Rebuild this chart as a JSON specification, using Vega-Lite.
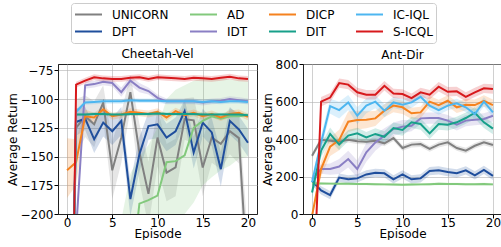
{
"$schema": "https://vega.github.io/schema/vega-lite/v6.json",
"padding": {"left": 5, "top": 2, "right": 0, "bottom": 0},
"config": {
  "font": "DejaVu Sans",
  "view": {"stroke": "#222", "strokeWidth": 1},
  "axis": {"labelFontSize": 12, "titleFontSize": 12, "labelColor": "#000", "titleColor": "#000", "titleFontWeight": "normal", "tickColor": "#000", "domainColor": "#222", "gridColor": "#b0b0b0", "gridOpacity": 0.6, "tickSize": 4, "labelPadding": 1, "titlePadding": 1},
  "axisX": {"labelPadding": -1, "titlePadding": 0},
  "title": {"fontSize": 12, "fontWeight": "normal", "offset": 3, "color": "#000"},
  "legend": {"labelFontSize": 12, "labelColor": "#000"}
},
"datasets": {
"cv": [
{"m":"UNICORN","ep":0,"y":-500,"lo":-530,"hi":-470},
{"m":"UNICORN","ep":1,"y":-125,"lo":-150,"hi":-100},
{"m":"UNICORN","ep":2,"y":-115,"lo":-133,"hi":-97},
{"m":"UNICORN","ep":3,"y":-122,"lo":-142,"hi":-102},
{"m":"UNICORN","ep":4,"y":-103,"lo":-118,"hi":-88},
{"m":"UNICORN","ep":5,"y":-162,"lo":-187,"hi":-137},
{"m":"UNICORN","ep":6,"y":-133.5,"lo":-155.5,"hi":-111.5},
{"m":"UNICORN","ep":7,"y":-94,"lo":-109,"hi":-79},
{"m":"UNICORN","ep":8,"y":-146.5,"lo":-171.5,"hi":-121.5},
{"m":"UNICORN","ep":9,"y":-182.5,"lo":-210.5,"hi":-154.5},
{"m":"UNICORN","ep":10,"y":-133.5,"lo":-158.5,"hi":-108.5},
{"m":"UNICORN","ep":11,"y":-164,"lo":-189,"hi":-139},
{"m":"UNICORN","ep":12,"y":-159.5,"lo":-184.5,"hi":-134.5},
{"m":"UNICORN","ep":13,"y":-117.5,"lo":-135.5,"hi":-99.5},
{"m":"UNICORN","ep":14,"y":-118.5,"lo":-138.5,"hi":-98.5},
{"m":"UNICORN","ep":15,"y":-159.5,"lo":-184.5,"hi":-134.5},
{"m":"UNICORN","ep":16,"y":-133.5,"lo":-155.5,"hi":-111.5},
{"m":"UNICORN","ep":17,"y":-139,"lo":-161,"hi":-117},
{"m":"UNICORN","ep":18,"y":-128,"lo":-148,"hi":-108},
{"m":"UNICORN","ep":19,"y":-134,"lo":-156,"hi":-112},
{"m":"UNICORN","ep":20,"y":-260,"lo":-300,"hi":-220},
{"m":"DPT","ep":0,"y":-470,"lo":-490,"hi":-450},
{"m":"DPT","ep":1,"y":-120,"lo":-132,"hi":-108},
{"m":"DPT","ep":2,"y":-117,"lo":-127,"hi":-107},
{"m":"DPT","ep":3,"y":-135,"lo":-147,"hi":-123},
{"m":"DPT","ep":4,"y":-120.5,"lo":-132.5,"hi":-108.5},
{"m":"DPT","ep":5,"y":-128,"lo":-140,"hi":-116},
{"m":"DPT","ep":6,"y":-119,"lo":-131,"hi":-107},
{"m":"DPT","ep":7,"y":-187,"lo":-202,"hi":-172},
{"m":"DPT","ep":8,"y":-148,"lo":-163,"hi":-133},
{"m":"DPT","ep":9,"y":-123.5,"lo":-135.5,"hi":-111.5},
{"m":"DPT","ep":10,"y":-122,"lo":-134,"hi":-110},
{"m":"DPT","ep":11,"y":-133.5,"lo":-145.5,"hi":-121.5},
{"m":"DPT","ep":12,"y":-128,"lo":-140,"hi":-116},
{"m":"DPT","ep":13,"y":-110.5,"lo":-120.5,"hi":-100.5},
{"m":"DPT","ep":14,"y":-146.5,"lo":-160.5,"hi":-132.5},
{"m":"DPT","ep":15,"y":-120.5,"lo":-132.5,"hi":-108.5},
{"m":"DPT","ep":16,"y":-129,"lo":-141,"hi":-117},
{"m":"DPT","ep":17,"y":-161,"lo":-176,"hi":-146},
{"m":"DPT","ep":18,"y":-119,"lo":-131,"hi":-107},
{"m":"DPT","ep":19,"y":-126.5,"lo":-138.5,"hi":-114.5},
{"m":"DPT","ep":20,"y":-138,"lo":-150,"hi":-126},
{"m":"AD","ep":0,"y":-400,"lo":-500,"hi":-300},
{"m":"AD","ep":1,"y":-390,"lo":-490,"hi":-290},
{"m":"AD","ep":2,"y":-380,"lo":-480,"hi":-280},
{"m":"AD","ep":3,"y":-370,"lo":-470,"hi":-270},
{"m":"AD","ep":4,"y":-350,"lo":-450,"hi":-250},
{"m":"AD","ep":5,"y":-330,"lo":-430,"hi":-235},
{"m":"AD","ep":6,"y":-300,"lo":-400,"hi":-205},
{"m":"AD","ep":7,"y":-260,"lo":-360,"hi":-165},
{"m":"AD","ep":8,"y":-191,"lo":-260,"hi":-150},
{"m":"AD","ep":9,"y":-188,"lo":-255,"hi":-140},
{"m":"AD","ep":10,"y":-184,"lo":-250,"hi":-125},
{"m":"AD","ep":11,"y":-155,"lo":-220,"hi":-100},
{"m":"AD","ep":12,"y":-154,"lo":-215,"hi":-92},
{"m":"AD","ep":13,"y":-149,"lo":-200,"hi":-88},
{"m":"AD","ep":14,"y":-125,"lo":-190,"hi":-84},
{"m":"AD","ep":15,"y":-119,"lo":-175,"hi":-82},
{"m":"AD","ep":16,"y":-115,"lo":-168,"hi":-82},
{"m":"AD","ep":17,"y":-117,"lo":-162,"hi":-82},
{"m":"AD","ep":18,"y":-115,"lo":-158,"hi":-83},
{"m":"AD","ep":19,"y":-115,"lo":-152,"hi":-83},
{"m":"AD","ep":20,"y":-114,"lo":-150,"hi":-84},
{"m":"IDT","ep":0,"y":-450,"lo":-455,"hi":-445},
{"m":"IDT","ep":1,"y":-215,"lo":-223,"hi":-207},
{"m":"IDT","ep":2,"y":-88,"lo":-91,"hi":-85},
{"m":"IDT","ep":3,"y":-87,"lo":-90,"hi":-84},
{"m":"IDT","ep":4,"y":-85,"lo":-88,"hi":-82},
{"m":"IDT","ep":5,"y":-86,"lo":-89,"hi":-83},
{"m":"IDT","ep":6,"y":-94,"lo":-98,"hi":-90},
{"m":"IDT","ep":7,"y":-84,"lo":-88,"hi":-80},
{"m":"IDT","ep":8,"y":-90,"lo":-94,"hi":-86},
{"m":"IDT","ep":9,"y":-93,"lo":-96,"hi":-90},
{"m":"IDT","ep":10,"y":-99,"lo":-102,"hi":-96},
{"m":"IDT","ep":11,"y":-102,"lo":-104.5,"hi":-99.5},
{"m":"IDT","ep":12,"y":-102,"lo":-104.5,"hi":-99.5},
{"m":"IDT","ep":13,"y":-102,"lo":-104.5,"hi":-99.5},
{"m":"IDT","ep":14,"y":-102,"lo":-104.5,"hi":-99.5},
{"m":"IDT","ep":15,"y":-103,"lo":-105.5,"hi":-100.5},
{"m":"IDT","ep":16,"y":-102,"lo":-104.5,"hi":-99.5},
{"m":"IDT","ep":17,"y":-101.5,"lo":-104,"hi":-99},
{"m":"IDT","ep":18,"y":-100,"lo":-102.5,"hi":-97.5},
{"m":"IDT","ep":19,"y":-101,"lo":-103.5,"hi":-98.5},
{"m":"IDT","ep":20,"y":-102,"lo":-104.5,"hi":-99.5},
{"m":"DICP","ep":0,"y":-162,"lo":-186,"hi":-134},
{"m":"DICP","ep":1,"y":-155,"lo":-175,"hi":-135},
{"m":"DICP","ep":2,"y":-115,"lo":-121,"hi":-109},
{"m":"DICP","ep":3,"y":-116,"lo":-120,"hi":-112},
{"m":"DICP","ep":4,"y":-109,"lo":-112,"hi":-106},
{"m":"DICP","ep":5,"y":-115,"lo":-118,"hi":-112},
{"m":"DICP","ep":6,"y":-113.5,"lo":-116.5,"hi":-110.5},
{"m":"DICP","ep":7,"y":-111,"lo":-114,"hi":-108},
{"m":"DICP","ep":8,"y":-112,"lo":-115,"hi":-109},
{"m":"DICP","ep":9,"y":-113,"lo":-116,"hi":-110},
{"m":"DICP","ep":10,"y":-111,"lo":-114,"hi":-108},
{"m":"DICP","ep":11,"y":-116,"lo":-119,"hi":-113},
{"m":"DICP","ep":12,"y":-110.5,"lo":-113.5,"hi":-107.5},
{"m":"DICP","ep":13,"y":-114,"lo":-117,"hi":-111},
{"m":"DICP","ep":14,"y":-112,"lo":-115,"hi":-109},
{"m":"DICP","ep":15,"y":-115,"lo":-118,"hi":-112},
{"m":"DICP","ep":16,"y":-113,"lo":-116,"hi":-110},
{"m":"DICP","ep":17,"y":-116,"lo":-119,"hi":-113},
{"m":"DICP","ep":18,"y":-113,"lo":-116,"hi":-110},
{"m":"DICP","ep":19,"y":-112,"lo":-115,"hi":-109},
{"m":"DICP","ep":20,"y":-115.5,"lo":-118.5,"hi":-112.5},
{"m":"DIT","ep":0,"y":-600,"lo":-602,"hi":-598},
{"m":"DIT","ep":1,"y":-113.5,"lo":-115,"hi":-112},
{"m":"DIT","ep":2,"y":-113.5,"lo":-115,"hi":-112},
{"m":"DIT","ep":3,"y":-113,"lo":-114.5,"hi":-111.5},
{"m":"DIT","ep":4,"y":-113,"lo":-114.5,"hi":-111.5},
{"m":"DIT","ep":5,"y":-113.5,"lo":-115,"hi":-112},
{"m":"DIT","ep":6,"y":-113.5,"lo":-115,"hi":-112},
{"m":"DIT","ep":7,"y":-113,"lo":-114.5,"hi":-111.5},
{"m":"DIT","ep":8,"y":-113,"lo":-114.5,"hi":-111.5},
{"m":"DIT","ep":9,"y":-113,"lo":-114.5,"hi":-111.5},
{"m":"DIT","ep":10,"y":-112.5,"lo":-114,"hi":-111},
{"m":"DIT","ep":11,"y":-113,"lo":-114.5,"hi":-111.5},
{"m":"DIT","ep":12,"y":-113,"lo":-114.5,"hi":-111.5},
{"m":"DIT","ep":13,"y":-113,"lo":-114.5,"hi":-111.5},
{"m":"DIT","ep":14,"y":-113,"lo":-114.5,"hi":-111.5},
{"m":"DIT","ep":15,"y":-113.5,"lo":-115,"hi":-112},
{"m":"DIT","ep":16,"y":-113.5,"lo":-115,"hi":-112},
{"m":"DIT","ep":17,"y":-113.5,"lo":-115,"hi":-112},
{"m":"DIT","ep":18,"y":-113.5,"lo":-115,"hi":-112},
{"m":"DIT","ep":19,"y":-113.5,"lo":-115,"hi":-112},
{"m":"DIT","ep":20,"y":-114,"lo":-115.5,"hi":-112.5},
{"m":"IC-IQL","ep":0,"y":-600,"lo":-602,"hi":-598},
{"m":"IC-IQL","ep":1,"y":-111,"lo":-113,"hi":-109},
{"m":"IC-IQL","ep":2,"y":-103,"lo":-105,"hi":-101},
{"m":"IC-IQL","ep":3,"y":-102.5,"lo":-104.5,"hi":-100.5},
{"m":"IC-IQL","ep":4,"y":-102,"lo":-104,"hi":-100},
{"m":"IC-IQL","ep":5,"y":-102,"lo":-104,"hi":-100},
{"m":"IC-IQL","ep":6,"y":-102,"lo":-104,"hi":-100},
{"m":"IC-IQL","ep":7,"y":-101,"lo":-103,"hi":-99},
{"m":"IC-IQL","ep":8,"y":-101.5,"lo":-103.5,"hi":-99.5},
{"m":"IC-IQL","ep":9,"y":-101.5,"lo":-103.5,"hi":-99.5},
{"m":"IC-IQL","ep":10,"y":-101.5,"lo":-103.5,"hi":-99.5},
{"m":"IC-IQL","ep":11,"y":-102,"lo":-104,"hi":-100},
{"m":"IC-IQL","ep":12,"y":-102,"lo":-104,"hi":-100},
{"m":"IC-IQL","ep":13,"y":-102,"lo":-104,"hi":-100},
{"m":"IC-IQL","ep":14,"y":-102,"lo":-104,"hi":-100},
{"m":"IC-IQL","ep":15,"y":-102.5,"lo":-104.5,"hi":-100.5},
{"m":"IC-IQL","ep":16,"y":-102,"lo":-104,"hi":-100},
{"m":"IC-IQL","ep":17,"y":-102.5,"lo":-104.5,"hi":-100.5},
{"m":"IC-IQL","ep":18,"y":-102,"lo":-104,"hi":-100},
{"m":"IC-IQL","ep":19,"y":-102,"lo":-104,"hi":-100},
{"m":"IC-IQL","ep":20,"y":-102.5,"lo":-104.5,"hi":-100.5},
{"m":"S-ICQL","ep":0,"y":-650,"lo":-652.5,"hi":-647.5},
{"m":"S-ICQL","ep":1,"y":-87.5,"lo":-90,"hi":-85},
{"m":"S-ICQL","ep":2,"y":-84,"lo":-86.5,"hi":-81.5},
{"m":"S-ICQL","ep":3,"y":-81,"lo":-83.5,"hi":-78.5},
{"m":"S-ICQL","ep":4,"y":-82,"lo":-84.5,"hi":-79.5},
{"m":"S-ICQL","ep":5,"y":-82.5,"lo":-85,"hi":-80},
{"m":"S-ICQL","ep":6,"y":-82.5,"lo":-85,"hi":-80},
{"m":"S-ICQL","ep":7,"y":-81.5,"lo":-84,"hi":-79},
{"m":"S-ICQL","ep":8,"y":-81,"lo":-83.5,"hi":-78.5},
{"m":"S-ICQL","ep":9,"y":-82.5,"lo":-85,"hi":-80},
{"m":"S-ICQL","ep":10,"y":-81,"lo":-83.5,"hi":-78.5},
{"m":"S-ICQL","ep":11,"y":-81.5,"lo":-84,"hi":-79},
{"m":"S-ICQL","ep":12,"y":-82,"lo":-84.5,"hi":-79.5},
{"m":"S-ICQL","ep":13,"y":-82.5,"lo":-85,"hi":-80},
{"m":"S-ICQL","ep":14,"y":-81.5,"lo":-84,"hi":-79},
{"m":"S-ICQL","ep":15,"y":-82,"lo":-84.5,"hi":-79.5},
{"m":"S-ICQL","ep":16,"y":-82.5,"lo":-85,"hi":-80},
{"m":"S-ICQL","ep":17,"y":-81.5,"lo":-84,"hi":-79},
{"m":"S-ICQL","ep":18,"y":-80.5,"lo":-83,"hi":-78},
{"m":"S-ICQL","ep":19,"y":-82,"lo":-84.5,"hi":-79.5},
{"m":"S-ICQL","ep":20,"y":-82.5,"lo":-85,"hi":-80}
],
"ad": [
{"m":"UNICORN","ep":0,"y":311,"lo":296,"hi":326},
{"m":"UNICORN","ep":1,"y":396,"lo":381,"hi":411},
{"m":"UNICORN","ep":2,"y":391,"lo":376,"hi":406},
{"m":"UNICORN","ep":3,"y":386,"lo":371,"hi":401},
{"m":"UNICORN","ep":4,"y":396,"lo":381,"hi":411},
{"m":"UNICORN","ep":5,"y":388,"lo":373,"hi":403},
{"m":"UNICORN","ep":6,"y":386,"lo":371,"hi":401},
{"m":"UNICORN","ep":7,"y":391,"lo":376,"hi":406},
{"m":"UNICORN","ep":8,"y":377,"lo":362,"hi":392},
{"m":"UNICORN","ep":9,"y":405,"lo":390,"hi":420},
{"m":"UNICORN","ep":10,"y":352,"lo":337,"hi":367},
{"m":"UNICORN","ep":11,"y":370,"lo":355,"hi":385},
{"m":"UNICORN","ep":12,"y":373,"lo":358,"hi":388},
{"m":"UNICORN","ep":13,"y":347,"lo":332,"hi":362},
{"m":"UNICORN","ep":14,"y":370,"lo":355,"hi":385},
{"m":"UNICORN","ep":15,"y":382,"lo":367,"hi":397},
{"m":"UNICORN","ep":16,"y":352,"lo":337,"hi":367},
{"m":"UNICORN","ep":17,"y":338,"lo":323,"hi":353},
{"m":"UNICORN","ep":18,"y":364,"lo":349,"hi":379},
{"m":"UNICORN","ep":19,"y":382,"lo":367,"hi":397},
{"m":"UNICORN","ep":20,"y":368,"lo":353,"hi":383},
{"m":"DPT","ep":0,"y":176,"lo":154,"hi":198},
{"m":"DPT","ep":1,"y":126,"lo":104,"hi":148},
{"m":"DPT","ep":2,"y":101,"lo":79,"hi":123},
{"m":"DPT","ep":3,"y":194,"lo":172,"hi":216},
{"m":"DPT","ep":4,"y":185,"lo":163,"hi":207},
{"m":"DPT","ep":5,"y":190,"lo":168,"hi":212},
{"m":"DPT","ep":6,"y":211,"lo":189,"hi":233},
{"m":"DPT","ep":7,"y":220,"lo":198,"hi":242},
{"m":"DPT","ep":8,"y":217,"lo":195,"hi":239},
{"m":"DPT","ep":9,"y":185,"lo":163,"hi":207},
{"m":"DPT","ep":10,"y":211,"lo":189,"hi":233},
{"m":"DPT","ep":11,"y":185,"lo":163,"hi":207},
{"m":"DPT","ep":12,"y":190,"lo":168,"hi":212},
{"m":"DPT","ep":13,"y":229,"lo":207,"hi":251},
{"m":"DPT","ep":14,"y":233,"lo":211,"hi":255},
{"m":"DPT","ep":15,"y":224,"lo":202,"hi":246},
{"m":"DPT","ep":16,"y":217,"lo":195,"hi":239},
{"m":"DPT","ep":17,"y":233,"lo":211,"hi":255},
{"m":"DPT","ep":18,"y":206,"lo":184,"hi":228},
{"m":"DPT","ep":19,"y":235,"lo":213,"hi":257},
{"m":"DPT","ep":20,"y":203,"lo":181,"hi":225},
{"m":"AD","ep":0,"y":163,"lo":156,"hi":170},
{"m":"AD","ep":1,"y":163,"lo":156,"hi":170},
{"m":"AD","ep":2,"y":162,"lo":155,"hi":169},
{"m":"AD","ep":3,"y":162,"lo":155,"hi":169},
{"m":"AD","ep":4,"y":161,"lo":154,"hi":168},
{"m":"AD","ep":5,"y":160,"lo":153,"hi":167},
{"m":"AD","ep":6,"y":160,"lo":153,"hi":167},
{"m":"AD","ep":7,"y":159,"lo":152,"hi":166},
{"m":"AD","ep":8,"y":158,"lo":151,"hi":165},
{"m":"AD","ep":9,"y":157,"lo":150,"hi":164},
{"m":"AD","ep":10,"y":156,"lo":149,"hi":163},
{"m":"AD","ep":11,"y":157,"lo":150,"hi":164},
{"m":"AD","ep":12,"y":158,"lo":151,"hi":165},
{"m":"AD","ep":13,"y":159,"lo":152,"hi":166},
{"m":"AD","ep":14,"y":161,"lo":154,"hi":168},
{"m":"AD","ep":15,"y":160,"lo":153,"hi":167},
{"m":"AD","ep":16,"y":160,"lo":153,"hi":167},
{"m":"AD","ep":17,"y":159,"lo":152,"hi":166},
{"m":"AD","ep":18,"y":159,"lo":152,"hi":166},
{"m":"AD","ep":19,"y":160,"lo":153,"hi":167},
{"m":"AD","ep":20,"y":158,"lo":151,"hi":165},
{"m":"IDT","ep":0,"y":185,"lo":165,"hi":205},
{"m":"IDT","ep":1,"y":240,"lo":215,"hi":265},
{"m":"IDT","ep":2,"y":240,"lo":210,"hi":270},
{"m":"IDT","ep":3,"y":253,"lo":213,"hi":293},
{"m":"IDT","ep":4,"y":293,"lo":248,"hi":338},
{"m":"IDT","ep":5,"y":240,"lo":195,"hi":285},
{"m":"IDT","ep":6,"y":329,"lo":279,"hi":379},
{"m":"IDT","ep":7,"y":382,"lo":337,"hi":427},
{"m":"IDT","ep":8,"y":418,"lo":378,"hi":458},
{"m":"IDT","ep":9,"y":453,"lo":418,"hi":488},
{"m":"IDT","ep":10,"y":466,"lo":431,"hi":501},
{"m":"IDT","ep":11,"y":471,"lo":441,"hi":501},
{"m":"IDT","ep":12,"y":510,"lo":480,"hi":540},
{"m":"IDT","ep":13,"y":512,"lo":482,"hi":542},
{"m":"IDT","ep":14,"y":512,"lo":482,"hi":542},
{"m":"IDT","ep":15,"y":498,"lo":468,"hi":528},
{"m":"IDT","ep":16,"y":476,"lo":446,"hi":506},
{"m":"IDT","ep":17,"y":498,"lo":468,"hi":528},
{"m":"IDT","ep":18,"y":503,"lo":473,"hi":533},
{"m":"IDT","ep":19,"y":507,"lo":477,"hi":537},
{"m":"IDT","ep":20,"y":524,"lo":494,"hi":554},
{"m":"DICP","ep":0,"y":-10,"lo":-25,"hi":5},
{"m":"DICP","ep":1,"y":240,"lo":200,"hi":280},
{"m":"DICP","ep":2,"y":359,"lo":309,"hi":409},
{"m":"DICP","ep":3,"y":395,"lo":340,"hi":450},
{"m":"DICP","ep":4,"y":492,"lo":437,"hi":547},
{"m":"DICP","ep":5,"y":501,"lo":451,"hi":551},
{"m":"DICP","ep":6,"y":503,"lo":458,"hi":548},
{"m":"DICP","ep":7,"y":510,"lo":470,"hi":550},
{"m":"DICP","ep":8,"y":551,"lo":516,"hi":586},
{"m":"DICP","ep":9,"y":578,"lo":543,"hi":613},
{"m":"DICP","ep":10,"y":569,"lo":534,"hi":604},
{"m":"DICP","ep":11,"y":537,"lo":507,"hi":567},
{"m":"DICP","ep":12,"y":542,"lo":512,"hi":572},
{"m":"DICP","ep":13,"y":599,"lo":569,"hi":629},
{"m":"DICP","ep":14,"y":580,"lo":550,"hi":610},
{"m":"DICP","ep":15,"y":604,"lo":574,"hi":634},
{"m":"DICP","ep":16,"y":569,"lo":539,"hi":599},
{"m":"DICP","ep":17,"y":583,"lo":553,"hi":613},
{"m":"DICP","ep":18,"y":581,"lo":551,"hi":611},
{"m":"DICP","ep":19,"y":604,"lo":574,"hi":634},
{"m":"DICP","ep":20,"y":581,"lo":551,"hi":611},
{"m":"DIT","ep":0,"y":115,"lo":85,"hi":145},
{"m":"DIT","ep":1,"y":338,"lo":303,"hi":373},
{"m":"DIT","ep":2,"y":427,"lo":392,"hi":462},
{"m":"DIT","ep":3,"y":370,"lo":340,"hi":400},
{"m":"DIT","ep":4,"y":418,"lo":388,"hi":448},
{"m":"DIT","ep":5,"y":430,"lo":400,"hi":460},
{"m":"DIT","ep":6,"y":408,"lo":378,"hi":438},
{"m":"DIT","ep":7,"y":427,"lo":397,"hi":457},
{"m":"DIT","ep":8,"y":412,"lo":382,"hi":442},
{"m":"DIT","ep":9,"y":458,"lo":428,"hi":488},
{"m":"DIT","ep":10,"y":448,"lo":418,"hi":478},
{"m":"DIT","ep":11,"y":489,"lo":459,"hi":519},
{"m":"DIT","ep":12,"y":480,"lo":450,"hi":510},
{"m":"DIT","ep":13,"y":430,"lo":400,"hi":460},
{"m":"DIT","ep":14,"y":480,"lo":450,"hi":510},
{"m":"DIT","ep":15,"y":476,"lo":446,"hi":506},
{"m":"DIT","ep":16,"y":489,"lo":459,"hi":519},
{"m":"DIT","ep":17,"y":512,"lo":482,"hi":542},
{"m":"DIT","ep":18,"y":540,"lo":510,"hi":570},
{"m":"DIT","ep":19,"y":489,"lo":459,"hi":519},
{"m":"DIT","ep":20,"y":455,"lo":425,"hi":485},
{"m":"IC-IQL","ep":0,"y":170,"lo":150,"hi":190},
{"m":"IC-IQL","ep":1,"y":380,"lo":340,"hi":420},
{"m":"IC-IQL","ep":2,"y":575,"lo":535,"hi":615},
{"m":"IC-IQL","ep":3,"y":554,"lo":509,"hi":599},
{"m":"IC-IQL","ep":4,"y":595,"lo":555,"hi":635},
{"m":"IC-IQL","ep":5,"y":524,"lo":479,"hi":569},
{"m":"IC-IQL","ep":6,"y":578,"lo":538,"hi":618},
{"m":"IC-IQL","ep":7,"y":599,"lo":564,"hi":634},
{"m":"IC-IQL","ep":8,"y":551,"lo":516,"hi":586},
{"m":"IC-IQL","ep":9,"y":595,"lo":565,"hi":625},
{"m":"IC-IQL","ep":10,"y":583,"lo":553,"hi":613},
{"m":"IC-IQL","ep":11,"y":595,"lo":565,"hi":625},
{"m":"IC-IQL","ep":12,"y":625,"lo":600,"hi":650},
{"m":"IC-IQL","ep":13,"y":578,"lo":553,"hi":603},
{"m":"IC-IQL","ep":14,"y":554,"lo":529,"hi":579},
{"m":"IC-IQL","ep":15,"y":578,"lo":553,"hi":603},
{"m":"IC-IQL","ep":16,"y":590,"lo":565,"hi":615},
{"m":"IC-IQL","ep":17,"y":569,"lo":544,"hi":594},
{"m":"IC-IQL","ep":18,"y":533,"lo":508,"hi":558},
{"m":"IC-IQL","ep":19,"y":599,"lo":574,"hi":624},
{"m":"IC-IQL","ep":20,"y":542,"lo":517,"hi":567},
{"m":"S-ICQL","ep":0,"y":-590,"lo":-615,"hi":-565},
{"m":"S-ICQL","ep":1,"y":599,"lo":574,"hi":624},
{"m":"S-ICQL","ep":2,"y":621,"lo":596,"hi":646},
{"m":"S-ICQL","ep":3,"y":698,"lo":673,"hi":723},
{"m":"S-ICQL","ep":4,"y":690,"lo":665,"hi":715},
{"m":"S-ICQL","ep":5,"y":649,"lo":624,"hi":674},
{"m":"S-ICQL","ep":6,"y":636,"lo":611,"hi":661},
{"m":"S-ICQL","ep":7,"y":636,"lo":611,"hi":661},
{"m":"S-ICQL","ep":8,"y":684,"lo":659,"hi":709},
{"m":"S-ICQL","ep":9,"y":643,"lo":618,"hi":668},
{"m":"S-ICQL","ep":10,"y":640,"lo":615,"hi":665},
{"m":"S-ICQL","ep":11,"y":618,"lo":593,"hi":643},
{"m":"S-ICQL","ep":12,"y":649,"lo":624,"hi":674},
{"m":"S-ICQL","ep":13,"y":636,"lo":611,"hi":661},
{"m":"S-ICQL","ep":14,"y":679,"lo":654,"hi":704},
{"m":"S-ICQL","ep":15,"y":652,"lo":627,"hi":677},
{"m":"S-ICQL","ep":16,"y":654,"lo":629,"hi":679},
{"m":"S-ICQL","ep":17,"y":625,"lo":600,"hi":650},
{"m":"S-ICQL","ep":18,"y":649,"lo":624,"hi":674},
{"m":"S-ICQL","ep":19,"y":670,"lo":645,"hi":695},
{"m":"S-ICQL","ep":20,"y":667,"lo":642,"hi":692}
]
},
"spacing": 2,
"hconcat": [
{
 "width": 199, "height": 150,
 "title": "Cheetah-Vel",
 "data": {"name": "cv"},
 "encoding": {
  "x": {"field": "ep", "type": "quantitative", "scale": {"domain": [-1, 21], "nice": false, "zero": false}, "axis": {"values": [0, 5, 10, 15, 20], "title": "Episode"}},
  "color": {"field": "m", "type": "nominal",
   "scale": {"domain": ["UNICORN", "AD", "DICP", "IC-IQL", "DPT", "IDT", "DIT", "S-ICQL"], "range": ["#808080", "#82c97c", "#f5821f", "#4db6f0", "#1f4e9c", "#8a7fc4", "#17a08a", "#d7191c"]},
   "legend": {"orient": "none", "direction": "horizontal", "legendX": 13, "legendY": -61, "columns": 4, "title": null, "symbolType": "stroke", "symbolSize": 729, "clipHeight": 17, "symbolStrokeWidth": 2, "symbolOpacity": 1, "columnPadding": 20, "rowPadding": 0, "strokeColor": "#cccccc", "fillColor": "white", "padding": 3, "cornerRadius": 3, "labelOffset": 9,
     "encode": {"symbols": {"update": {"stroke": {"scale": "color", "field": "value"}, "strokeOpacity": {"value": 1}, "opacity": {"value": 1}, "fill": {"value": "transparent"}}}}}}
 },
 "layer": [
  {"mark": {"type": "area", "opacity": 0.2, "clip": true},
   "encoding": {"y": {"field": "lo", "type": "quantitative", "scale": {"domain": [-200, -69.5], "nice": false, "zero": false}, "axis": {"values": [-75, -100, -125, -150, -175, -200], "title": "Average Return"}}, "y2": {"field": "hi"}}},
  {"mark": {"type": "line", "strokeWidth": 2, "clip": true},
   "encoding": {"y": {"field": "y", "type": "quantitative", "axis": {"values": [-75, -100, -125, -150, -175, -200], "title": "Average Return"}}}}
 ]
},
{
 "width": 199, "height": 150,
 "title": {"text": "Ant-Dir", "offset": -4},
 "data": {"name": "ad"},
 "encoding": {
  "x": {"field": "ep", "type": "quantitative", "scale": {"domain": [-1, 21], "nice": false, "zero": false}, "axis": {"values": [0, 5, 10, 15, 20], "title": "Episode"}},
  "color": {"field": "m", "type": "nominal"}
 },
 "layer": [
  {"mark": {"type": "area", "opacity": 0.2, "clip": true},
   "encoding": {"y": {"field": "lo", "type": "quantitative", "scale": {"domain": [0, 800], "nice": false}, "axis": {"values": [0, 200, 400, 600, 800], "title": "Average Return"}}, "y2": {"field": "hi"}}},
  {"mark": {"type": "line", "strokeWidth": 2, "clip": true},
   "encoding": {"y": {"field": "y", "type": "quantitative", "axis": {"values": [0, 200, 400, 600, 800], "title": "Average Return"}}}}
 ]
}
]
}
